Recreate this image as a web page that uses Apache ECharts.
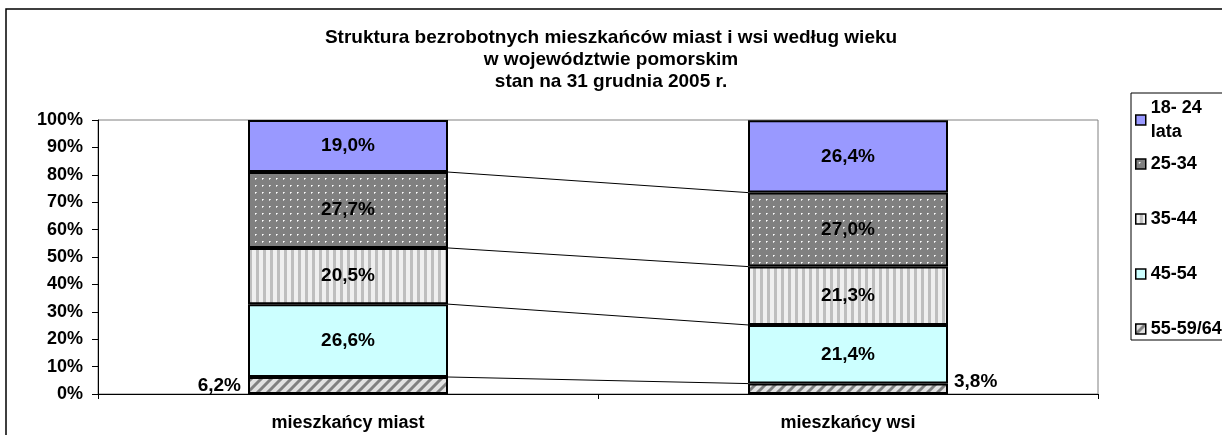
<!DOCTYPE html>
<html>
<head>
<meta charset="utf-8">
<script src="https://cdn.jsdelivr.net/npm/echarts@6/dist/echarts.min.js"></script>
<style>
  html, body { margin: 0; padding: 0; background: #fff; }
  #main { width: 1222px; height: 435px; }
</style>
</head>
<body>
<div id="main"></div>
<script>
// data (percent shares, bottom segment first)
const categories = ['mieszkańcy miast', 'mieszkańcy wsi']
const groupNames = ['55-59/64', '45-54', '35-44', '25-34', '18- 24\nlata']
const age55 = [6.2, 3.8]
const age45 = [26.6, 21.4]
const age35 = [20.5, 21.3]
const age25 = [27.7, 27.0]
const age18 = [19.0, 26.4]
const titleLines = [
  'Struktura bezrobotnych mieszkańców miast i wsi według wieku',
  'w województwie pomorskim',
  'stan na 31 grudnia 2005 r.'
]

const FONT = "'Liberation Sans', Arial, sans-serif"

// fill patterns like the old excel ones
const makeTile = (w, h, draw) => {
  const c = document.createElement('canvas')
  c.width = w
  c.height = h
  draw(c.getContext('2d'))
  return { image: c, repeat: 'repeat' }
}
const dots = makeTile(7, 7, ctx => {
  ctx.fillStyle = '#808080'
  ctx.fillRect(0, 0, 7, 7)
  ctx.fillStyle = '#d4d4d4'
  ctx.fillRect(4, 3, 1, 1)
  ctx.fillRect(3, 4, 1, 1)
  ctx.fillStyle = '#ffffff'
  ctx.fillRect(3, 3, 1, 1)
})
const stripes = makeTile(7, 4, ctx => {
  ctx.fillStyle = '#efefef'
  ctx.fillRect(0, 0, 4, 4)
  ctx.fillStyle = '#bebebe'
  ctx.fillRect(4, 0, 3, 4)
})
const hatch = makeTile(10, 10, ctx => {
  ctx.fillStyle = '#e2e2e2'
  ctx.fillRect(0, 0, 10, 10)
  ctx.strokeStyle = '#808080'
  ctx.lineWidth = 3
  ctx.beginPath()
  ctx.moveTo(-5, 5); ctx.lineTo(5, -5)
  ctx.moveTo(0, 10); ctx.lineTo(10, 0)
  ctx.moveTo(5, 15); ctx.lineTo(15, 5)
  ctx.stroke()
})

const seriesValues = [age55, age45, age35, age25, age18]
const fills = [hatch, '#ccffff', stripes, dots, '#9999ff']
const fmt = v => v.toFixed(1).replace('.', ',') + '%'

const labelStyle = {
  show: true,
  position: 'inside',
  color: '#000',
  fontFamily: FONT,
  fontWeight: 'bold',
  fontSize: 19,
  formatter: p => fmt(p.value)
}

const barSeries = groupNames.map((name, i) => ({
  name: name,
  type: 'bar',
  stack: 'total',
  barWidth: '40%',
  itemStyle: { color: fills[i], borderColor: '#000', borderWidth: 2 },
  label: labelStyle,
  data: seriesValues[i].map((v, j) => {
    if (i !== 0) return v
    // smallest segment gets its label outside the bar
    return j === 0
      ? { value: v, label: { position: 'left', distance: 7 } }
      : { value: v, label: { position: 'right', distance: 6, offset: [0, -7] } }
  })
}))

// series lines between the segment tops of both bars
const boundaries = []
let cumA = 0, cumB = 0
for (let k = 0; k < seriesValues.length - 1; ++k) {
  cumA += seriesValues[k][0]
  cumB += seriesValues[k][1]
  boundaries.push([0, cumA, cumB])
}
const seriesLines = {
  type: 'custom',
  silent: true,
  data: boundaries,
  encode: { x: 0, y: 1 },
  renderItem: (params, api) => {
    const a = api.coord([0, api.value(1)])
    const b = api.coord([1, api.value(2)])
    const half = api.size([1, 0])[0] * 0.2
    return {
      type: 'line',
      shape: { x1: a[0] + half, y1: a[1], x2: b[0] - half, y2: b[1] },
      style: { stroke: '#000', lineWidth: 1 }
    }
  }
}

const legendBase = {
  orient: 'vertical',
  left: 1135,
  padding: 0,
  icon: 'rect',
  itemWidth: 10,
  itemHeight: 10,
  selectedMode: false,
  itemStyle: { borderWidth: 1.5, borderColor: '#000' }
}

const chart = echarts.init(document.getElementById('main'))
chart.setOption({
  animation: false,
  backgroundColor: '#fff',
  title: {
    text: titleLines.join('\n'),
    left: 'center',
    top: 22,
    textStyle: { fontFamily: FONT, fontWeight: 'bold', fontSize: 19, lineHeight: 22, color: '#000' }
  },
  legend: [
    Object.assign({}, legendBase, {
      data: [groupNames[4], groupNames[3]],
      top: 96,
      itemGap: 8,
      textStyle: { fontFamily: FONT, fontWeight: 'bold', fontSize: 18, lineHeight: 24, color: '#000' }
    }),
    Object.assign({}, legendBase, {
      data: [groupNames[2], groupNames[1], groupNames[0]],
      top: 209,
      itemGap: 35,
      textStyle: { fontFamily: FONT, fontWeight: 'bold', fontSize: 18, lineHeight: 20, color: '#000' }
    })
  ],
  grid: {
    left: 98,
    right: 124,
    top: 120,
    bottom: 41,
    show: true,
    borderColor: '#808080',
    borderWidth: 1
  },
  xAxis: {
    type: 'category',
    data: categories,
    axisLine: { lineStyle: { color: '#000', width: 1 } },
    axisTick: { show: true, length: 5, lineStyle: { color: '#000' } },
    axisLabel: { fontFamily: FONT, fontWeight: 'bold', fontSize: 18, color: '#000', margin: 20 }
  },
  yAxis: {
    type: 'value',
    min: 0,
    max: 100,
    interval: 10,
    splitLine: { show: false },
    axisLine: { show: true, lineStyle: { color: '#000', width: 1 } },
    axisTick: { show: true, length: 6, lineStyle: { color: '#000' } },
    axisLabel: { formatter: '{value}%', fontFamily: FONT, fontWeight: 'bold', fontSize: 18, color: '#000', margin: 15 }
  },
  graphic: [
    { type: 'rect', shape: { x: 6, y: 9, width: 1300, height: 500 }, style: { fill: null, stroke: '#000', lineWidth: 1.5 }, silent: true },
    { type: 'rect', shape: { x: 1131, y: 93, width: 200, height: 247 }, style: { fill: null, stroke: '#000', lineWidth: 1 }, silent: true }
  ],
  series: barSeries.concat([seriesLines])
})
</script>
</body>
</html>
